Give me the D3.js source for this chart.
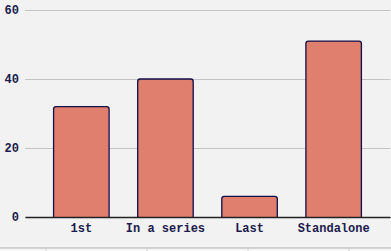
<!DOCTYPE html>
<html><head><meta charset="utf-8">
<script src="https://cdn.jsdelivr.net/npm/d3@7"></script>
<style>html,body{margin:0;padding:0;background:#f2f2f2;}svg{display:block;}</style>
</head><body><div id="chart"></div>
<script>
const categories = ["1st", "In a series", "Last", "Standalone"];
const values = [32, 40, 6, 51];
const yTicks = [0, 20, 40, 60];

const W = 391, H = 251;
const svg = d3.select("#chart").append("svg").attr("width", W).attr("height", H);
svg.append("rect").attr("width", W).attr("height", H).attr("fill", "#f2f2f2");

const x = d3.scaleBand().domain(categories).range([25, 390]).paddingInner(0.34).paddingOuter(0.34);
const y = d3.scaleLinear().domain([0, 60]).range([217, 10]);

const font = "'Liberation Mono', 'DejaVu Sans Mono', monospace";
const ink = "#1b1b4d";

// gridlines + y labels
const yAxis = svg.append("g").attr("transform", "translate(25,0)")
  .call(d3.axisLeft(y).tickValues(yTicks).tickSize(-(390 - 25)).tickPadding(6));
yAxis.select(".domain").remove();
yAxis.selectAll(".tick line").attr("stroke", "#c4c4c4").attr("stroke-width", 1.2);
yAxis.selectAll(".tick text").attr("font-family", font).attr("font-weight", "bold")
  .attr("font-size", 12).attr("fill", ink);

// bars with rounded top corners
const r = 2.5;
svg.append("g").selectAll("path").data(values).join("path")
  .attr("d", (d, i) => {
    const x0 = x(categories[i]), x1 = x0 + x.bandwidth();
    const y0 = y(d), yb = y(0);
    return `M${x0},${yb} V${y0 + r} Q${x0},${y0} ${x0 + r},${y0} H${x1 - r} Q${x1},${y0} ${x1},${y0 + r} V${yb}`;
  })
  .attr("fill", "#e07f6d").attr("stroke", "#0f0f4a").attr("stroke-width", 1.3);

// x axis
const xAxis = svg.append("g").attr("transform", `translate(0,${y(0)})`)
  .call(d3.axisBottom(x).tickSize(0).tickPadding(6));
xAxis.select(".domain").attr("stroke", "#222").attr("stroke-width", 1.5);
xAxis.selectAll(".tick text").attr("font-family", font).attr("font-weight", "bold")
  .attr("font-size", 12).attr("fill", ink);

// bottom frame line with separators
svg.append("rect").attr("x", 0).attr("y", 248).attr("width", W).attr("height", 3).attr("fill", "#f7f7f7");
svg.append("line").attr("x1", 0).attr("x2", W).attr("y1", 248).attr("y2", 248)
  .attr("stroke", "#b0b0b0").attr("stroke-width", 1);
const seps = [46, 147, 248, 349];
svg.append("g").selectAll("line").data(seps).join("line")
  .attr("x1", d => d).attr("x2", d => d).attr("y1", 249).attr("y2", 251)
  .attr("stroke", "#d0d0d0");
</script></body></html>
